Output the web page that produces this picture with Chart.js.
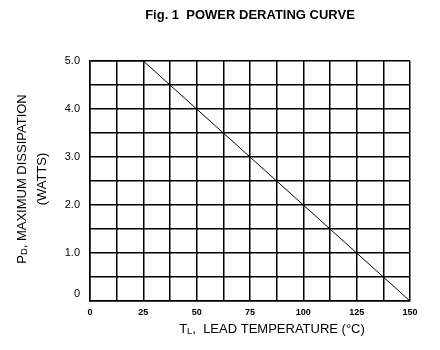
<!DOCTYPE html>
<html>
<head>
<meta charset="utf-8">
<script src="https://cdn.jsdelivr.net/npm/chart.js@4/dist/chart.umd.min.js"></script>
<style>
  html, body { margin: 0; padding: 0; background: #fff; }
  #wrap { width: 440px; height: 350px; }
</style>
</head>
<body>
<div id="wrap"><canvas id="derating-chart"></canvas></div>
<script>
// derating curve: flat to 25 °C, then linear down to zero at 150 °C
var leadTemp = [0, 25, 150];
var maxPower = [5, 5, 0];
var xTickLabels = [0, 25, 50, 75, 100, 125, 150];
var yTickLabels = [0, 1, 2, 3, 4, 5];

var FONT = 'Arial, "Liberation Sans", sans-serif';

// text with a small-caps subscript, e.g. P with D below
function drawSubText(ctx, parts, x, y, size) {
  var total = 0;
  parts.forEach(function (p) {
    ctx.font = (p.sub ? size * 0.72 : size) + 'px ' + FONT;
    p.w = ctx.measureText(p.t).width;
    total += p.w;
  });
  var cx = x - total / 2;
  parts.forEach(function (p) {
    ctx.font = (p.sub ? size * 0.72 : size) + 'px ' + FONT;
    ctx.fillText(p.t, cx, y + (p.sub ? size * 0.18 : 0));
    cx += p.w;
  });
}

var labelsPlugin = {
  id: 'axisText',
  afterDraw: function (chart) {
    var ctx = chart.ctx;
    var area = chart.chartArea;
    var yScale = chart.scales.y;
    ctx.save();
    ctx.fillStyle = '#000';
    ctx.textBaseline = 'middle';

    // chart heading
    ctx.font = 'bold 13px ' + FONT;
    ctx.textAlign = 'center';
    ctx.fillText('Fig. 1  POWER DERATING CURVE', (area.left + area.right) / 2, 15);

    // the zero label sits a little above its line
    ctx.font = '11px ' + FONT;
    ctx.textAlign = 'right';
    ctx.fillText('0', area.left - 10, yScale.getPixelForValue(0) - 7);
    ctx.textAlign = 'left';

    // x axis title
    drawSubText(ctx, [{t: 'T'}, {t: 'L', sub: true}, {t: ',  LEAD TEMPERATURE (°C)'}], 272, 329, 13);

    // y axis title, two rotated lines
    var midY = (area.top + area.bottom) / 2;
    ctx.translate(22, midY - 2);
    ctx.rotate(-Math.PI / 2);
    drawSubText(ctx, [{t: 'P'}, {t: 'D', sub: true}, {t: ', MAXIMUM DISSIPATION'}], 0, 0, 13);
    ctx.font = '13px ' + FONT;
    ctx.textAlign = 'center';
    ctx.fillText('(WATTS)', 0, 20);
    ctx.restore();
  }
};

var ctx = document.getElementById('derating-chart');
var deratingChart = new Chart(ctx, {
  type: 'scatter',
  data: {
    datasets: [{
      data: leadTemp.map(function (t, i) { return {x: t, y: maxPower[i]}; }),
      showLine: true,
      borderColor: '#000',
      borderWidth: 1,
      pointRadius: 0,
      fill: false
    }]
  },
  options: {
    responsive: true,
    maintainAspectRatio: false,
    animation: false,
    layout: { padding: { top: 61, right: 30, left: 0, bottom: 0 } },
    plugins: {
      legend: { display: false },
      tooltip: { enabled: false },
      title: { display: false }
    },
    scales: {
      x: {
        type: 'linear',
        min: 0,
        max: 150,
        afterFit: function (scale) { scale.height = 49; },
        ticks: {
          stepSize: 12.5,
          padding: 6,
          color: '#000',
          font: { family: FONT, size: 9, weight: 'bold' },
          maxRotation: 0,
          autoSkip: false,
          callback: function (v) { return xTickLabels.indexOf(v) >= 0 ? String(v) : ''; }
        },
        grid: { color: '#000', lineWidth: 1.5, drawTicks: false },
        border: { color: '#000', width: 1.5 }
      },
      y: {
        min: 0,
        max: 5,
        afterFit: function (scale) { scale.width = 90; },
        ticks: {
          stepSize: 0.5,
          padding: 10,
          color: '#000',
          font: { family: FONT, size: 11 },
          autoSkip: false,
          callback: function (v) {
            // zero is drawn by the axisText plugin
            if (v === 0 || yTickLabels.indexOf(v) < 0) return '';
            return v.toFixed(1);
          }
        },
        grid: { color: '#000', lineWidth: 1.5, drawTicks: false },
        border: { color: '#000', width: 1.5 }
      }
    }
  },
  plugins: [labelsPlugin]
});
</script>
</body>
</html>
